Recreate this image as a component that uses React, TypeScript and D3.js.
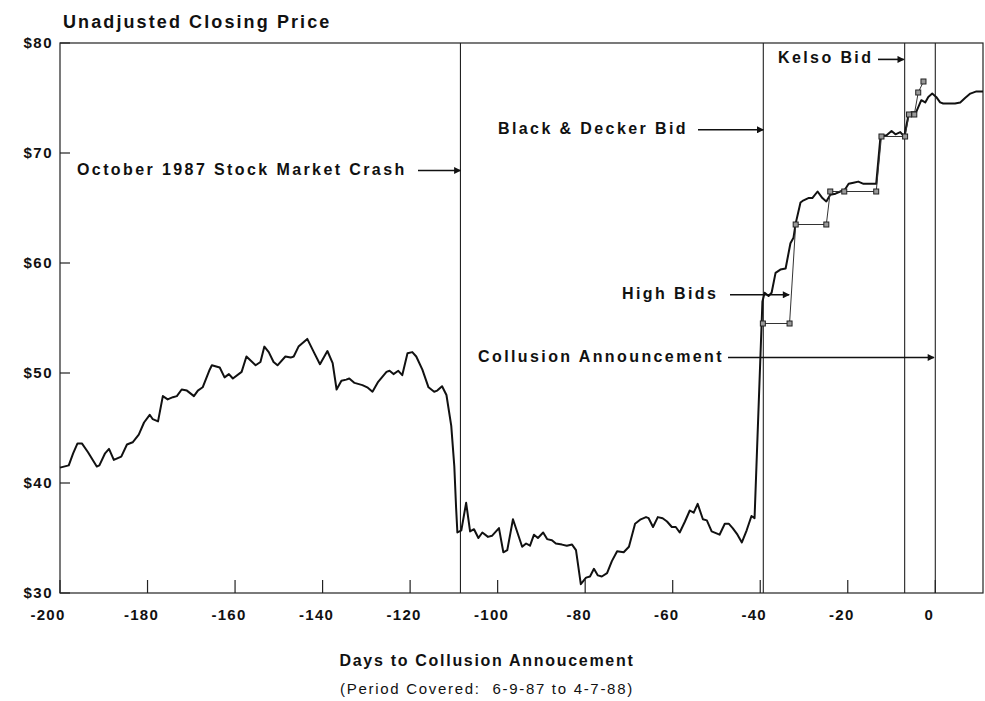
import React from "react";
import * as d3 from "d3";

const width = 985;
const height = 701;
const margin = { top: 43, right: 2, bottom: 108, left: 60 };

// closing price, trading days relative to collusion announcement
const priceDays = [
  -200, -198, -197, -196, -195, -193.6, -191.6, -191, -189.7, -188.8, -187.7, -186, -184.7, -183.4, -182,
  -180.8, -179.5, -178.8, -177.6, -176.5, -175.4, -174.2, -173.3, -172.2, -171, -169.4, -168.5, -167.4,
  -165.8, -165.3, -163.5, -162.4, -161.4, -160.5, -158.5, -157.4, -155.3, -154.2, -153.3, -152.3, -151.2,
  -150.3, -148.5, -147.3, -146.6, -145.5, -143.5, -142, -140.6, -138.9, -137.7, -136.8, -135.7, -134.6,
  -133.9, -132.7, -130.9, -129.8, -128.6, -127.3, -125.4, -124.7, -123.8, -122.7, -121.8, -120.6, -119.5,
  -118.6, -117.2, -115.8, -114.5, -113.8, -112.7, -111.7, -110.6, -109.9, -109.5, -109.2, -108.3, -107.2,
  -106.3, -105.4, -104.4, -103.5, -102.2, -101.3, -99.7, -98.7, -97.8, -96.5, -94.4, -93.5, -92.6, -91.7,
  -90.8, -89.6, -88.7, -87.6, -86.7, -85.3, -84.2, -83, -82.1, -81, -79.8, -78.9, -78, -77.1, -76.2, -75,
  -73.9, -72.7, -71.2, -70, -68.6, -67.3, -66.1, -65.5, -64.5, -63.4, -62.3, -61.3, -60.2, -59.3, -58.4,
  -57.2, -56.1, -55.2, -54.3, -53.1, -52.2, -51.1, -49.3, -48.1, -47.2, -46.3, -45.2, -44.2, -43.1, -42,
  -41.3, -39.5, -39, -38.1, -37.4, -36.5, -35.4, -34.2, -33.1, -32.4, -31.9, -30.8, -30.1, -29, -28.1,
  -26.9, -25.8, -24.9, -24, -22.8, -21.7, -20.6, -19.8, -18.7, -17.6, -16.4, -15.3, -13.5, -12.5, -11.2,
  -10, -9.1, -8, -7.1, -6.2, -5.5, -4.4, -3.2, -2.3, -1.6, -0.7, 0.2, 1.1, 1.8, 3, 4.5, 5.7, 6.8, 8, 9.4,
  10.9,
];
const prices = [
  41.4, 41.6, 42.7, 43.6, 43.6, 42.8, 41.5, 41.6, 42.7, 43.1, 42.1, 42.4, 43.5, 43.7, 44.4,
  45.5, 46.2, 45.8, 45.6, 47.9, 47.6, 47.8, 47.9, 48.5, 48.4, 47.9, 48.4, 48.7,
  50.3, 50.7, 50.5, 49.6, 49.9, 49.5, 50.1, 51.5, 50.7, 51.0, 52.4, 51.9, 51.0,
  50.7, 51.5, 51.4, 51.5, 52.4, 53.1, 51.9, 50.8, 52.0, 50.9, 48.5, 49.3, 49.4,
  49.5, 49.1, 48.9, 48.7, 48.3, 49.2, 50.1, 50.2, 49.9, 50.2, 49.8, 51.8, 51.9,
  51.5, 50.3, 48.7, 48.3, 48.4, 48.8, 48.0, 45.2, 41.5, 37.8, 35.5, 35.7, 38.2,
  35.6, 35.8, 35.0, 35.5, 35.1, 35.2, 35.9, 33.7, 33.9, 36.7, 34.2, 34.5, 34.3, 35.3,
  35.0, 35.5, 34.9, 34.8, 34.5, 34.4, 34.3, 34.4, 33.9, 30.8, 31.4, 31.5, 32.2, 31.6, 31.5, 31.8,
  32.9, 33.8, 33.7, 34.2, 36.3, 36.7, 36.9, 36.8, 36.0, 36.9, 36.8, 36.5, 36.0, 36.0, 35.5,
  36.5, 37.5, 37.3, 38.1, 36.7, 36.6, 35.6, 35.3, 36.3, 36.3, 35.9, 35.3, 34.6, 35.7, 37.0,
  36.8, 56.5, 57.3, 57.0, 57.3, 59.1, 59.4, 59.5, 61.8, 62.3, 63.6, 65.5, 65.7, 65.9, 65.9,
  66.5, 65.9, 65.6, 66.2, 66.3, 66.5, 66.7, 67.2, 67.3, 67.4, 67.2, 67.2, 67.2, 71.6, 71.6,
  72.0, 71.7, 71.9, 71.5, 73.3, 73.7, 73.7, 74.8, 74.6, 75.1, 75.4, 75.1, 74.6, 74.5, 74.5, 74.5, 74.6, 75.0, 75.4, 75.6,
  75.6,
];

// high bids (square markers)
const bidDays = [-39.4, -33.3, -31.9, -24.9, -24.0, -20.8, -13.5, -12.3, -6.9, -6.0, -4.8, -3.9, -2.7];
const bids = [54.5, 54.5, 63.5, 63.5, 66.5, 66.5, 66.5, 71.5, 71.5, 73.5, 73.5, 75.5, 76.5];

// event lines
const eventDays = [-108.5, -39.3, -7, 0];

const xTicks = [-200, -180, -160, -140, -120, -100, -80, -60, -40, -20, 0];
const yTicks = [30, 40, 50, 60, 70, 80];

// annotations: label, text start, arrow start, event day the arrow points at, price level
const notes = [
  { label: "October 1987 Stock Market Crash", from: 77, arrow: 418, to: -108.5, level: 68.5 },
  { label: "Black & Decker Bid", from: 498, arrow: 698, to: -39.3, level: 72.2 },
  { label: "Kelso Bid", from: 778, arrow: 878, to: -7.2, level: 78.6 },
  { label: "High Bids", from: 622, arrow: 730, to: -33.4, level: 57.2 },
  { label: "Collusion Announcement", from: 478, arrow: 728, to: -0.3, level: 51.5 },
];

const font = "'Liberation Sans', Arial, Helvetica, sans-serif";

export default function App() {
  const x = d3.scaleLinear().domain([-200, 10.9]).range([margin.left, width - margin.right]);
  const y = d3.scaleLinear().domain([30, 80]).range([height - margin.bottom, margin.top]);
  const priceLine = d3
    .line<number>()
    .x((d, i) => x(priceDays[i]))
    .y((d) => y(d));
  const bidLine = d3
    .line<number>()
    .x((d, i) => x(bidDays[i]))
    .y((d) => y(d));
  const bottom = height - margin.bottom;

  return (
    <svg width={width} height={height} style={{ position: "absolute", left: 0, top: 0, background: "#fff" }}>
      <defs>
        <marker id="arrow" viewBox="0 0 10 10" refX="9" refY="5" markerWidth="10" markerHeight="7" orient="auto" markerUnits="userSpaceOnUse">
          <path d="M0,0 L10,5 L0,10 z" fill="#111" />
        </marker>
      </defs>
      <g fontFamily={font} fill="#111">
        <text x={63} y={28} fontSize={18} fontWeight="bold" letterSpacing={2.1}>
          Unadjusted Closing Price
        </text>

        {/* frame */}
        <rect x={margin.left} y={margin.top} width={width - margin.right - margin.left} height={bottom - margin.top} fill="none" stroke="#222" strokeWidth={1.2} />

        {yTicks.map((t) => (
          <g key={t}>
            <line x1={margin.left} x2={margin.left + 10} y1={y(t)} y2={y(t)} stroke="#222" strokeWidth={1.2} />
            <text x={53} y={y(t) + 5} textAnchor="end" fontSize={15} fontWeight="bold" letterSpacing={1.5}>
              ${t}
            </text>
          </g>
        ))}

        {xTicks.map((t) => (
          <g key={t}>
            <line x1={x(t)} x2={x(t)} y1={bottom} y2={bottom - 13} stroke="#222" strokeWidth={1.2} />
            <text x={x(t) - (t === -200 ? 12 : 6)} y={bottom + 27} textAnchor="middle" fontSize={15} fontWeight="bold" letterSpacing={1.3}>
              {t}
            </text>
          </g>
        ))}

        <text x={487} y={666} textAnchor="middle" fontSize={16} fontWeight="bold" letterSpacing={1.7}>
          Days to Collusion Annoucement
        </text>
        <text x={487} y={694} textAnchor="middle" fontSize={15} letterSpacing={1.7} style={{ whiteSpace: "pre" }}>
          (Period Covered:  6-9-87 to 4-7-88)
        </text>

        {eventDays.map((d) => (
          <line key={d} x1={x(d)} x2={x(d)} y1={margin.top} y2={bottom} stroke="#222" strokeWidth={1.1} />
        ))}

        <path d={priceLine(prices) ?? ""} fill="none" stroke="#111" strokeWidth={2} strokeLinejoin="round" />
        <path d={bidLine(bids) ?? ""} fill="none" stroke="#333" strokeWidth={1} />
        {bids.map((b, i) => (
          <rect key={i} x={x(bidDays[i]) - 2.5} y={y(b) - 2.5} width={5} height={5} fill="#999" stroke="#222" strokeWidth={1} />
        ))}

        {notes.map((n) => {
          const yy = y(n.level);
          return (
            <g key={n.label}>
              <text x={n.from} y={yy + 5} fontSize={16} fontWeight="bold" letterSpacing={2.4}>
                {n.label}
              </text>
              <line x1={n.arrow} x2={x(n.to)} y1={yy + 1} y2={yy + 1} stroke="#111" strokeWidth={1.6} markerEnd="url(#arrow)" />
            </g>
          );
        })}
      </g>
    </svg>
  );
}
